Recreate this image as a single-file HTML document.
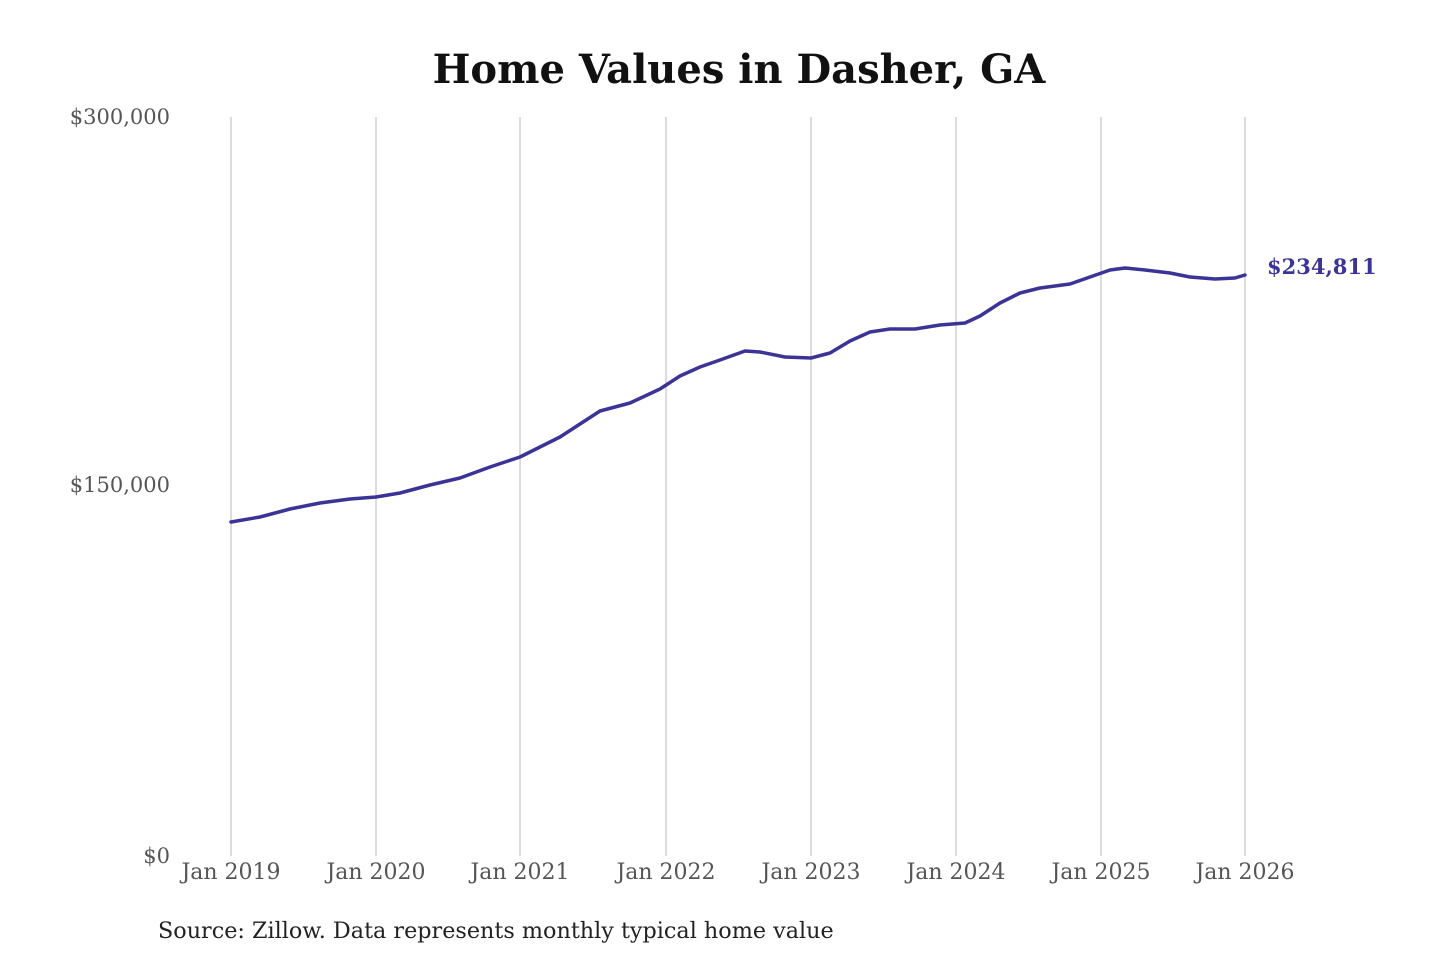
<!DOCTYPE html>
<html><head><meta charset="utf-8"><style>
html,body{margin:0;padding:0;background:#fff;}
svg{display:block}
</style></head><body>
<svg width="1440" height="960" xmlns="http://www.w3.org/2000/svg" font-family="'DejaVu Serif','Liberation Serif',serif">
<rect width="1440" height="960" fill="#fff"/>
<text x="739" y="83" text-anchor="middle" font-size="40" font-weight="bold" fill="#111">Home Values in Dasher, GA</text>
<g stroke="#c4c4c4" stroke-width="1.2">
<line x1="231" y1="117" x2="231" y2="856"/>
<line x1="376" y1="117" x2="376" y2="856"/>
<line x1="520" y1="117" x2="520" y2="856"/>
<line x1="666" y1="117" x2="666" y2="856"/>
<line x1="811" y1="117" x2="811" y2="856"/>
<line x1="956" y1="117" x2="956" y2="856"/>
<line x1="1101" y1="117" x2="1101" y2="856"/>
<line x1="1245" y1="117" x2="1245" y2="856"/>
</g>
<g font-size="21" fill="#555" text-anchor="end">
<text x="170" y="124">$300,000</text>
<text x="170" y="492">$150,000</text>
<text x="170" y="863">$0</text>
</g>
<g font-size="22" fill="#555" text-anchor="middle">
<text x="231" y="879">Jan 2019</text>
<text x="376" y="879">Jan 2020</text>
<text x="520" y="879">Jan 2021</text>
<text x="666" y="879">Jan 2022</text>
<text x="811" y="879">Jan 2023</text>
<text x="956" y="879">Jan 2024</text>
<text x="1101" y="879">Jan 2025</text>
<text x="1245" y="879">Jan 2026</text>
</g>
<polyline fill="none" stroke="#3b3496" stroke-width="3.5" stroke-linejoin="round" stroke-linecap="round" points="231,522 260,517 290,509 320,503 350,499 376,497 400,493 430,485 460,478 490,467 520,457 560,437 580,424 600,411 630,403 660,389 680,376 700,367 720,360 745,351 760,352 785,357 811,358 830,353 850,341 870,332 890,329 915,329 940,325 965,323 980,316 1000,303 1020,293 1040,288 1070,284 1090,277 1110,270 1125,268 1145,270 1170,273 1190,277 1215,279 1235,278 1245,275"/>
<text x="1267" y="274" font-size="21" font-weight="bold" fill="#3b3496">$234,811</text>
<text x="158" y="938" font-size="22.3" fill="#222">Source: Zillow. Data represents monthly typical home value</text>
</svg>
</body></html>
